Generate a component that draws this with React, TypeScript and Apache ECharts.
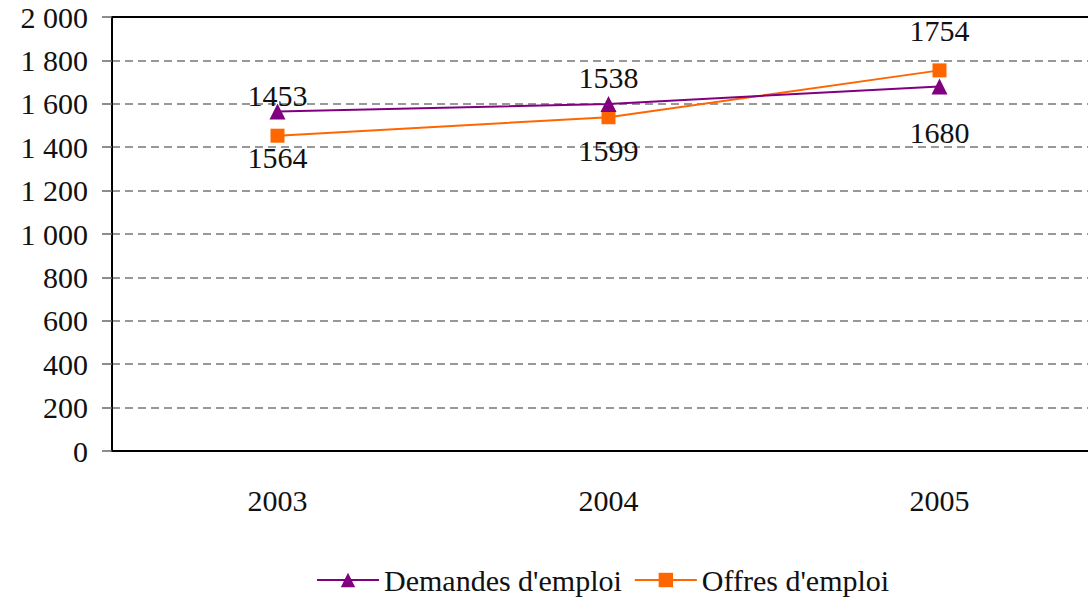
import React, { useEffect, useRef } from "react";
import * as echarts from "echarts";

const years = ["2003", "2004", "2005"];
const demandes = [1564, 1599, 1680];
const offres = [1453, 1538, 1754];
const FONT = "Liberation Serif, Times New Roman, DejaVu Serif, serif";
const FS = 30;

export default function App() {
  const ref = useRef<HTMLDivElement>(null);
  useEffect(() => {
    const chart = echarts.init(ref.current!, null, { renderer: "svg" });
    chart.setOption({
      animation: false,
      backgroundColor: "#ffffff",
      textStyle: { fontFamily: FONT },
      grid: {
        left: 112,
        top: 17,
        width: 993,
        height: 434,
        show: false,
      },
      legend: {
        top: 565,
        left: 316,
        padding: 0,
        itemWidth: 62,
        itemHeight: 18,
        itemGap: 12,
        textStyle: { fontFamily: FONT, fontSize: FS, color: "#111" },
        data: ["Demandes d'emploi", "Offres d'emploi"],
      },
      xAxis: [
        {
          type: "category",
          data: years,
          boundaryGap: true,
          axisLine: { lineStyle: { color: "#000", width: 2 } },
          axisTick: { show: false },
          axisLabel: { fontFamily: FONT, fontSize: FS, color: "#111", margin: 34 },
          splitLine: { show: false },
        },
        {
          type: "category",
          data: years,
          position: "top",
          boundaryGap: true,
          axisLine: { show: true, lineStyle: { color: "#000", width: 2 } },
          axisTick: { show: false },
          axisLabel: { show: false },
          splitLine: { show: false },
        },
      ],
      yAxis: {
        type: "value",
        min: 0,
        max: 2000,
        interval: 200,
        axisLine: { show: true, lineStyle: { color: "#000", width: 2 } },
        axisTick: { show: true, length: 10, lineStyle: { color: "#666", width: 1.5 } },
        axisLabel: {
          fontFamily: FONT,
          fontSize: FS,
          color: "#111",
          margin: 24,
          formatter: (v: number) => String(v).replace(/\B(?=(\d{3})+(?!\d))/g, " "),
        },
        splitLine: { show: true, lineStyle: { color: "#777", type: [8, 5], width: 1.5 } },
      },
      series: [
        {
          name: "Demandes d'emploi",
          type: "line",
          data: demandes,
          color: "#800080",
          symbol: "triangle",
          symbolSize: 16,
          lineStyle: { width: 2, color: "#800080" },
          itemStyle: { color: "#800080" },
          label: {
            show: true,
            position: "bottom",
            distance: 23,
            fontFamily: FONT,
            fontSize: FS,
            color: "#111",
          },
          z: 3,
        },
        {
          name: "Offres d'emploi",
          type: "line",
          data: offres,
          color: "#FF6600",
          symbol: "rect",
          symbolSize: 14,
          lineStyle: { width: 2, color: "#FF6600" },
          itemStyle: { color: "#FF6600" },
          label: {
            show: true,
            position: "top",
            distance: 18,
            fontFamily: FONT,
            fontSize: FS,
            color: "#111",
          },
          z: 2,
        },
      ],
    });
    return () => chart.dispose();
  }, []);
  return (
    <div
      style={{
        position: "fixed",
        left: 0,
        top: 0,
        width: 1088,
        height: 601,
        overflow: "hidden",
        background: "#fff",
      }}
    >
      <div ref={ref} style={{ width: 1110, height: 601 }} />
    </div>
  );
}
